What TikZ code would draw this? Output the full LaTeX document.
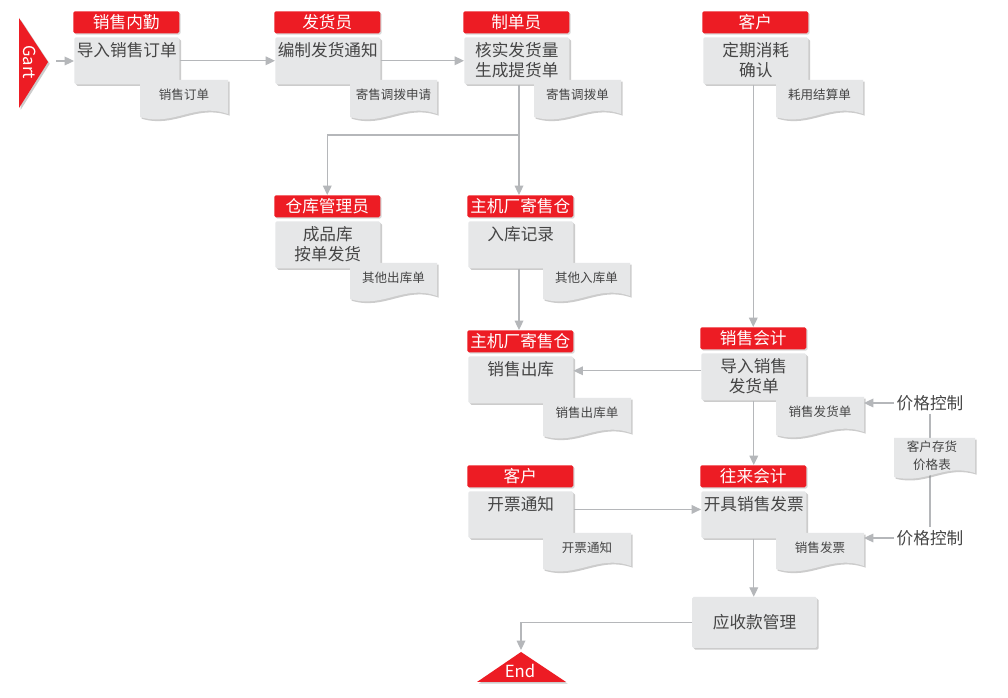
\documentclass[tikz,border=0pt]{standalone}
\usepackage{fontspec}
\setmainfont{Noto Sans CJK SC}
\usetikzlibrary{arrows.meta,shadows,calc}
\definecolor{hred}{HTML}{ED1C24}
\definecolor{boxgray}{HTML}{E6E7E8}
\definecolor{linegray}{HTML}{B5B7BA}
\definecolor{txt}{HTML}{454545}
\tikzset{
 shd/.style={drop shadow={shadow xshift=1.3pt,shadow yshift=-1.3pt,opacity=0.4}},
 hdr/.style={fill=hred, text=white, rounded corners=1.2pt, minimum width=79.5pt, minimum height=16.5pt, inner sep=0pt, anchor=north west, font=\fontsize{12.5}{14}\selectfont, drop shadow={shadow xshift=1pt,shadow yshift=-1pt,opacity=0.3}},
 pbox/.style={fill=boxgray, rounded corners=1.2pt, minimum width=78.75pt, minimum height=35.25pt, inner sep=0pt, anchor=north west, shd},
 ptext/.style={text=txt, font=\fontsize{12.5}{15}\selectfont, align=center, inner sep=0pt, anchor=north},
 doctext/.style={text=txt, font=\fontsize{9.4}{13.5}\selectfont, align=center, inner sep=0pt},
 conn/.style={draw=linegray, line width=0.9pt},
 arr/.style={conn, -{Triangle[length=7pt,width=6.5pt]}},
 plain/.style={text=txt, font=\fontsize{12.5}{15}\selectfont, inner sep=2pt},
}
\newcommand\procstep[5]{%
 \node[hdr] (#1h) at (#2,#3) {#4};
 \node[pbox] (#1) at (#2+1,#3+26) {};
 \node[ptext] (#1t) at ($(#1.north)+(0,5)$) {#5};
}
\newcommand\docshape[6]{%
 \path[fill=boxgray, shd] (#2,#3) -- (#4,#3) -- (#4,#5-4)
   .. controls ({#2+0.62*(#4-#2)},{#5-16}) and ({#2+0.38*(#4-#2)},{#5+9}) .. (#2,#5-1) -- cycle;
 \coordinate (#1e) at (#4,#3);
 \node[doctext] (#1) at ({(#2+#4)/2},{#3+15}) {#6};
}
\begin{document}
\begin{tikzpicture}[x=0.75pt,y=-0.75pt]
\useasboundingbox (0,0) rectangle (1008,698);
\fill[white] (0,0) rectangle (1008,698);
% start
\path[fill=hred, shd] (19,18) -- (48,62) -- (19,108) -- cycle;
\node[text=white, rotate=-90, font=\fontsize{12.5}{14}\selectfont, inner sep=0pt] (gart) at (30,62) {Gart};
\coordinate (gartE) at (56,61);
% row 1
\procstep{s1}{73}{11}{销售内勤}{导入销售订单}
\procstep{s2}{274}{11}{发货员}{编制发货通知}
\procstep{s3}{463}{11}{制单员}{核实发货量\\生成提货单}
\procstep{s4}{702}{11}{客户}{定期消耗\\确认}
% row 2
\procstep{r2a}{274}{195}{仓库管理员}{成品库\\按单发货}
\procstep{r2b}{467}{195}{主机厂寄售仓}{入库记录}
% row 3
\procstep{r3a}{467}{330}{主机厂寄售仓}{销售出库}
\procstep{r3b}{700}{327}{销售会计}{导入销售\\发货单}
% row 4
\procstep{r4a}{467}{465}{客户}{开票通知}
\procstep{r4b}{700}{465}{往来会计}{开具销售发票}
% AR box
\node[pbox, anchor=center, minimum width=93.75pt, minimum height=38.25pt, text=txt, font=\fontsize{12.5}{15}\selectfont] (ar) at (754.5,622.5) {应收款管理};
% end
\path[fill=hred, shd] (521,652) -- (566,682) -- (477,682) -- cycle;
\node[text=white, font=\fontsize{12.5}{14}\selectfont, inner sep=0pt] (endt) at (520,671) {End};
\coordinate (endapex) at (521,650);
% price control
\node[plain] (pc1) at (930,403) {价格控制};
\node[plain] (pc2) at (930,538) {价格控制};
\draw[conn] (pc1.south) -- (pc2.north);
% docs
\docshape{d1}{140}{80}{228}{118}{销售订单}
\docshape{d2}{350}{80}{437}{118}{寄售调拨申请}
\docshape{d3}{534}{80}{621}{118}{寄售调拨单}
\docshape{d4}{776}{80}{863}{118}{耗用结算单}
\docshape{d5}{350}{263}{437}{300}{其他出库单}
\docshape{d6}{543}{263}{630}{300}{其他入库单}
\docshape{d7}{543}{398}{631}{437}{销售出库单}
\docshape{d8}{776}{397}{864}{436}{销售发货单}
\docshape{d9}{543}{533}{631}{570}{开票通知}
\docshape{d10}{776}{533}{864}{570}{销售发票}
\path[fill=boxgray, shd] (894,438) -- (975,438) -- (975,473)
   .. controls (944,463) and (925,485) .. (894,477) -- cycle;
\node[doctext] (d11) at (932,456) {客户存货\\价格表};
% connectors
\draw[arr] (gartE) -- (gartE -| s1.west);
\draw[arr] (s1.east) -- (s2.west);
\draw[arr] (s2.east) -- (s3.west);
\coordinate (br) at (519,135);
\draw[conn] (br |- s3.south) -- (br);
\draw[arr] (br) -| (r2ah.north);
\draw[arr] (br) -- (br |- r2bh.north);
\draw[arr] (r2b.south -| br) -- (br |- r3ah.north);
\draw[arr] (r3bh.north |- s4.south) -- (r3bh.north);
\draw[arr] ([yshift=4.5pt]r3b.west) -- ([yshift=4.5pt]r3b.west -| r3a.east);
\draw[arr] (r3b.south) -- (r3b.south |- r4bh.north);
\draw[arr] ([yshift=4pt]r4a.east) -- ([yshift=4pt]r4a.east -| r4b.west);
\draw[arr] (r4b.south) -- (r4b.south |- ar.north);
\draw[arr] (ar.west) -| (endapex);
\draw[arr] (pc1.west) -- (pc1.west -| d8e);
\draw[arr] (pc2.west) -- (pc2.west -| d10e);
\end{tikzpicture}
\end{document}
